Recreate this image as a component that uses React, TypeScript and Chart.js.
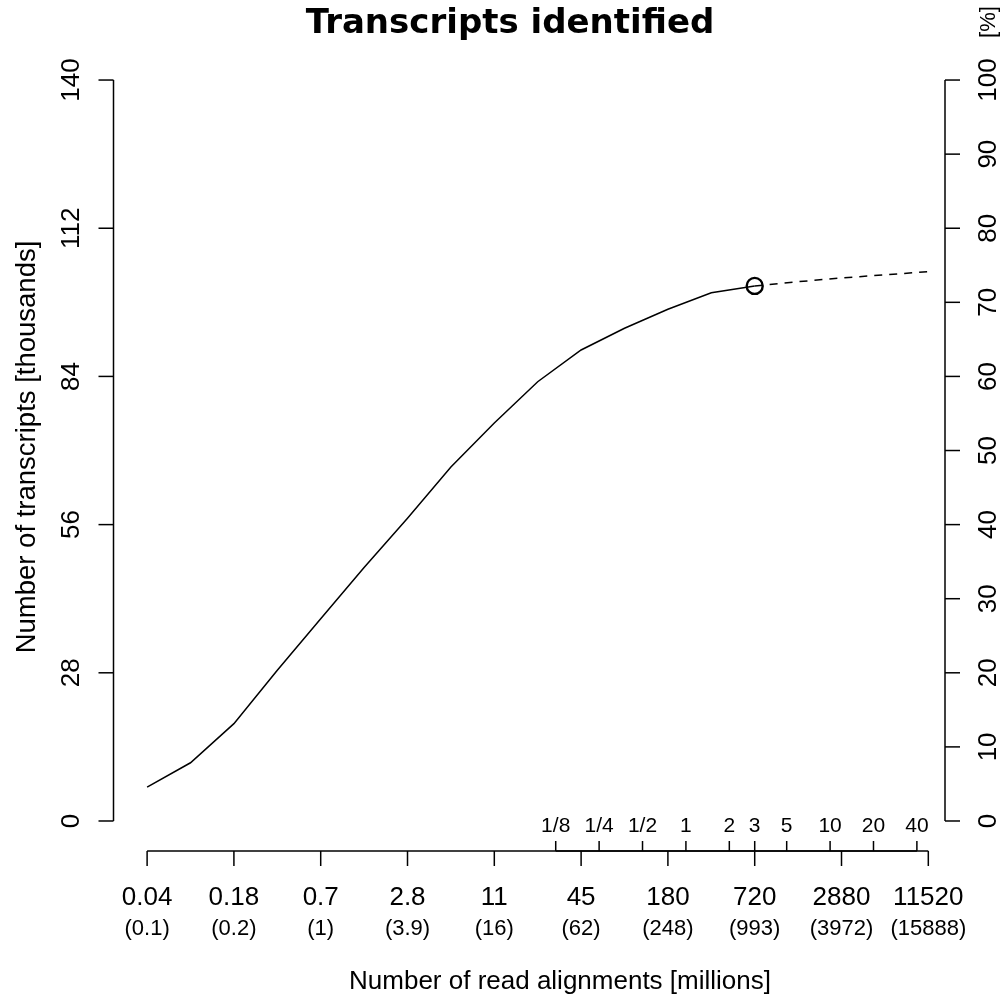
import { useEffect, useRef } from "react";
import { Chart, registerables } from "chart.js";

Chart.register(...registerables);

// Sequencing depth (millions of read alignments) and transcripts found (thousands)
const alignments = [
  0.04395, 0.0879, 0.1758, 0.3516, 0.7031, 1.406, 2.8125, 5.625, 11.25, 22.5, 45,
  90, 180, 360, 720,
];
const transcripts = [
  6.4, 11.0, 18.4, 28.5, 38.2, 47.9, 57.2, 66.9, 75.2, 83.0, 89.0, 93.1, 96.7, 99.8,
  101.1,
];

// Projected saturation beyond the sequenced depth
const projectedAlignments = [720, 1440, 2880, 5760, 11520];
const projectedTranscripts = [101.1, 101.9, 102.6, 103.2, 103.8];

// Bottom axis: alignments (millions) with reads (millions) underneath
const xTickValues = [0.04395, 0.1758, 0.7031, 2.8125, 11.25, 45, 180, 720, 2880, 11520];
const xTickLabels = ["0.04", "0.18", "0.7", "2.8", "11", "45", "180", "720", "2880", "11520"];
const xTickReads = ["(0.1)", "(0.2)", "(1)", "(3.9)", "(16)", "(62)", "(248)", "(993)", "(3972)", "(15888)"];

// Lane scale drawn on the inside of the bottom axis
const laneCounts = [0.125, 0.25, 0.5, 1, 2, 3, 5, 10, 20, 40];
const laneLabels = ["1/8", "1/4", "1/2", "1", "2", "3", "5", "10", "20", "40"];
const ALIGNMENTS_PER_LANE = 240;

// Left axis (thousands) and right axis (percent of total)
const yTicks = [0, 28, 56, 84, 112, 140];
const pctTicks = [0, 10, 20, 30, 40, 50, 60, 70, 80, 90, 100];
const TOTAL_TRANSCRIPTS = 140;

const Y_MIN = -5.67;
const Y_MAX = 145.6;
const X_MIN = 0.025693;
const X_MAX = 15040;

const SANS = '"Liberation Sans", Arial, Helvetica, sans-serif';
const TICK = 15;
const INNER_TICK = 10;

function line(ctx: CanvasRenderingContext2D, x1: number, y1: number, x2: number, y2: number) {
  ctx.beginPath();
  ctx.moveTo(x1, y1);
  ctx.lineTo(x2, y2);
  ctx.stroke();
}

// text centred on (cx, cy); rotated texts read bottom-to-top
function label(
  ctx: CanvasRenderingContext2D,
  text: string,
  cx: number,
  cy: number,
  size: number,
  rotated = false,
  font = SANS,
  weight = "normal"
) {
  ctx.save();
  ctx.font = `${weight} ${size}px ${font}`;
  ctx.textAlign = "center";
  ctx.textBaseline = "alphabetic";
  ctx.translate(cx, cy);
  if (rotated) ctx.rotate(-Math.PI / 2);
  ctx.fillText(text, 0, size * 0.36);
  ctx.restore();
}

const baseAxes = {
  id: "baseAxes",
  afterDraw(chart: any) {
    const { ctx, chartArea, scales } = chart;
    const x = scales.x;
    const y = scales.y;
    const y2 = scales.y2;
    ctx.save();
    ctx.strokeStyle = "#000";
    ctx.fillStyle = "#000";
    ctx.lineWidth = 1.5;
    ctx.lineCap = "butt";

    // left axis
    const lx = chartArea.left;
    line(ctx, lx, y.getPixelForValue(yTicks[0]), lx, y.getPixelForValue(yTicks[yTicks.length - 1]));
    yTicks.forEach((t) => {
      const py = y.getPixelForValue(t);
      line(ctx, lx, py, lx - TICK, py);
      label(ctx, String(t), lx - 43.5, py, 26, true);
    });

    // right axis
    const rx = chartArea.right;
    line(ctx, rx, y2.getPixelForValue(pctTicks[0]), rx, y2.getPixelForValue(pctTicks[pctTicks.length - 1]));
    pctTicks.forEach((t) => {
      const py = y2.getPixelForValue(t);
      line(ctx, rx, py, rx + TICK, py);
      label(ctx, String(t), rx + 41.5, py, 26, true);
    });
    label(ctx, "[%]", rx + 42, 22, 22, true);

    // bottom axis
    const by = chartArea.bottom;
    line(ctx, x.getPixelForValue(xTickValues[0]), by, x.getPixelForValue(xTickValues[xTickValues.length - 1]), by);
    xTickValues.forEach((v, i) => {
      const px = x.getPixelForValue(v);
      line(ctx, px, by, px, by + TICK);
      label(ctx, xTickLabels[i], px, by + 45, 26);
      label(ctx, xTickReads[i], px, by + 76, 22);
    });

    // lanes, inside the bottom axis
    const lanePx = laneCounts.map((n) => x.getPixelForValue(n * ALIGNMENTS_PER_LANE));
    line(ctx, lanePx[0], by, lanePx[lanePx.length - 1], by);
    lanePx.forEach((px, i) => {
      line(ctx, px, by, px, by - INNER_TICK);
      label(ctx, laneLabels[i], px, by - 27, 21);
    });

    // titles
    label(ctx, "Transcripts identified", 510, 21, 34, false, '"DejaVu Sans", Verdana, sans-serif', "bold");
    label(ctx, "Number of read alignments [millions]", 560, 980, 26);
    label(ctx, "Number of transcripts [thousands]", 25, 447, 27.5, true);
    ctx.restore();
  },
};

export default function App() {
  const canvasRef = useRef<HTMLCanvasElement | null>(null);

  useEffect(() => {
    const canvas = canvasRef.current;
    if (!canvas) return;
    const chart = new Chart(canvas, {
      type: "line",
      data: {
        datasets: [
          {
            data: alignments.map((a, i) => ({ x: a, y: transcripts[i] })),
            borderColor: "#000",
            borderWidth: 1.5,
            tension: 0,
            pointRadius: alignments.map((_, i) => (i === alignments.length - 1 ? 8 : 0)),
            pointBorderWidth: 2.4,
            pointBorderColor: "#000",
            pointBackgroundColor: "rgba(0,0,0,0)",
            pointHoverRadius: 0,
          },
          {
            data: projectedAlignments.map((a, i) => ({ x: a, y: projectedTranscripts[i] })),
            borderColor: "#000",
            borderWidth: 1.5,
            borderDash: [8, 7],
            tension: 0,
            pointRadius: 0,
            pointHoverRadius: 0,
          },
        ],
      },
      options: {
        responsive: false,
        animation: false,
        events: [],
        layout: { padding: { left: 113.5, right: 57, top: 50.4, bottom: 151 } },
        plugins: { legend: { display: false }, tooltip: { enabled: false } },
        scales: {
          x: { type: "logarithmic", min: X_MIN, max: X_MAX, display: false },
          y: { type: "linear", min: Y_MIN, max: Y_MAX, display: false },
          y2: {
            type: "linear",
            position: "right",
            min: (Y_MIN / TOTAL_TRANSCRIPTS) * 100,
            max: (Y_MAX / TOTAL_TRANSCRIPTS) * 100,
            display: false,
          },
        },
      },
      plugins: [baseAxes],
    });
    return () => chart.destroy();
  }, []);

  return (
    <div style={{ position: "absolute", left: 0, top: 0, width: 1002, height: 1002, background: "#fff" }}>
      <canvas ref={canvasRef} width={1002} height={1002} />
    </div>
  );
}
